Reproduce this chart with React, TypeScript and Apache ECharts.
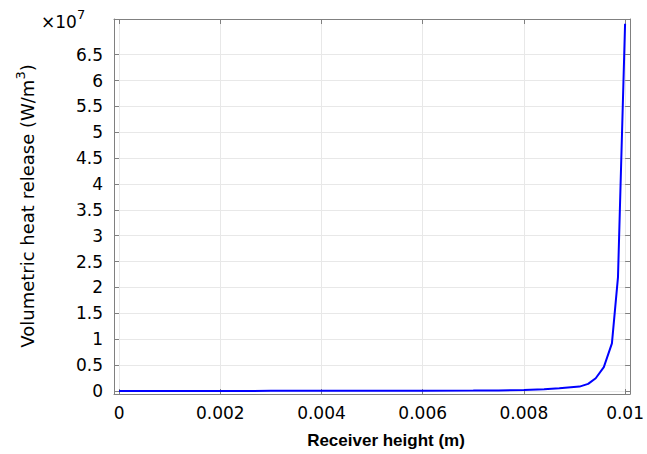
import React, { useEffect, useRef } from "react";
import * as echarts from "echarts";

// Receiver height (m)
const heights: number[] = [
  0, 0.001, 0.002, 0.003, 0.004, 0.005, 0.006, 0.007, 0.0075, 0.008, 0.0084, 0.0087,
  0.0091, 0.00927, 0.00942, 0.00958, 0.00974, 0.00986, 0.01,
];
// Volumetric heat release (W/m^3)
const heatRelease: number[] = [
  0, 0, 0, 0.005e6, 0.01e6, 0.015e6, 0.03e6, 0.06e6, 0.1e6, 0.18e6, 0.3e6, 0.5e6,
  0.83e6, 1.35e6, 2.45e6, 4.6e6, 9.2e6, 22e6, 71e6,
];
const xTicks: number[] = [0, 0.002, 0.004, 0.006, 0.008, 0.01];
const yTicks: number[] = [0, 0.5e7, 1e7, 1.5e7, 2e7, 2.5e7, 3e7, 3.5e7, 4e7, 4.5e7, 5e7, 5.5e7, 6e7, 6.5e7];

const X_MIN = -0.0001;
const X_MAX = 0.0101;
const Y_MIN = -0.06e7;
const Y_MAX = 7.19e7;

const AXIS_COLOR = "#808080";
const GRID_COLOR = "#e8e8e8";
const LABEL_FONT = "DejaVu Sans";

export default function App() {
  const ref = useRef<HTMLDivElement>(null);
  useEffect(() => {
    if (!ref.current) return;
    const chart = echarts.init(ref.current, undefined, { renderer: "svg" });
    const data = heights.map((h, i) => [h, heatRelease[i]]);
    const xBase = {
      type: "value" as const,
      min: X_MIN,
      max: X_MAX,
      axisLine: { show: true, onZero: false, lineStyle: { color: AXIS_COLOR, width: 1 } },
      axisTick: { show: true, inside: true, length: 5, customValues: xTicks, lineStyle: { color: AXIS_COLOR } },
    };
    const yBase = {
      type: "value" as const,
      min: Y_MIN,
      max: Y_MAX,
      axisLine: { show: true, onZero: false, lineStyle: { color: AXIS_COLOR, width: 1 } },
      axisTick: { show: true, inside: true, length: 5, customValues: yTicks, lineStyle: { color: AXIS_COLOR } },
    };
    chart.setOption({
      animation: false,
      grid: { left: 114, top: 19, right: 13, bottom: 60, show: false },
      xAxis: [
        {
          ...xBase,
          position: "bottom",
          axisLabel: {
            customValues: xTicks,
            margin: 10,
            fontFamily: LABEL_FONT,
            fontSize: 17,
            color: "#000",
            formatter: (v: number) => String(Math.round(v * 1e4) / 1e4),
          },
          splitLine: { show: true, lineStyle: { color: GRID_COLOR, width: 1 } },
        },
        {
          ...xBase,
          position: "top",
          axisLabel: { show: false },
          splitLine: { show: false },
        },
      ],
      yAxis: [
        {
          ...yBase,
          position: "left",
          axisLabel: {
            customValues: yTicks,
            margin: 11,
            fontFamily: LABEL_FONT,
            fontSize: 17,
            color: "#000",
            formatter: (v: number) => String(Math.round((v / 1e7) * 10) / 10),
          },
          splitLine: { show: true, lineStyle: { color: GRID_COLOR, width: 1 } },
        },
        {
          ...yBase,
          position: "right",
          axisLabel: { show: false },
          splitLine: { show: false },
        },
      ],
      series: [
        {
          type: "line",
          data,
          xAxisIndex: 0,
          yAxisIndex: 0,
          showSymbol: false,
          symbol: "none",
          lineStyle: { color: "#0000ff", width: 2 },
        },
      ],
      graphic: [
        {
          type: "text",
          left: 41,
          top: 8,
          style: {
            text: "{a|×10}{b|7}",
            rich: {
              a: { fontFamily: LABEL_FONT, fontSize: 17, fill: "#000", lineHeight: 22, verticalAlign: "bottom" },
              b: { fontFamily: LABEL_FONT, fontSize: 13, fill: "#000", lineHeight: 22, verticalAlign: "top", padding: [0, 0, 7, 0] },
            },
          },
        },
        {
          type: "text",
          x: 25,
          y: 206,
          rotation: Math.PI / 2,
          style: {
            text: "{a|Volumetric heat release (W/m}{b|3}{a|)}",
            align: "center",
            verticalAlign: "middle",
            rich: {
              a: { fontFamily: LABEL_FONT, fontSize: 18, fill: "#000", lineHeight: 22, verticalAlign: "bottom" },
              b: { fontFamily: LABEL_FONT, fontSize: 13, fill: "#000", lineHeight: 22, verticalAlign: "top", padding: [0, 0, 7, 0] },
            },
          },
        },
        {
          type: "text",
          x: 386,
          y: 440,
          style: {
            text: "Receiver height (m)",
            align: "center",
            verticalAlign: "middle",
            fontFamily: "Liberation Sans",
            fontWeight: "bold",
            fontSize: 17,
            fill: "#000",
          },
        },
      ],
    });
    return () => chart.dispose();
  }, []);
  return <div ref={ref} style={{ width: 647, height: 454, position: "absolute", left: 0, top: 0 }} />;
}
